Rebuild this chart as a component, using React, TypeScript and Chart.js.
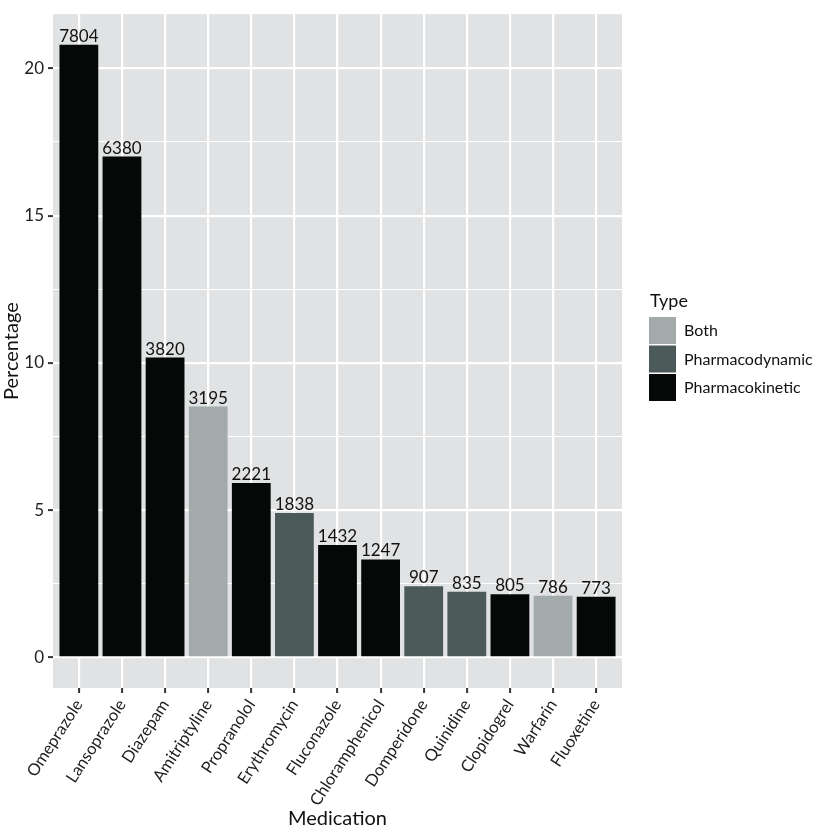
import React, { useEffect, useRef } from "react";
import { Chart, registerables } from "chart.js";

Chart.register(...registerables);

// Medications ordered by number of flagged interactions
const medications = [
  "Omeprazole",
  "Lansoprazole",
  "Diazepam",
  "Amitriptyline",
  "Propranolol",
  "Erythromycin",
  "Fluconazole",
  "Chloramphenicol",
  "Domperidone",
  "Quinidine",
  "Clopidogrel",
  "Warfarin",
  "Fluoxetine",
];

const interactionCounts = [7804, 6380, 3820, 3195, 2221, 1838, 1432, 1247, 907, 835, 805, 786, 773];

const interactionTypes = [
  "Pharmacokinetic",
  "Pharmacokinetic",
  "Pharmacokinetic",
  "Both",
  "Pharmacokinetic",
  "Pharmacodynamic",
  "Pharmacokinetic",
  "Pharmacokinetic",
  "Pharmacodynamic",
  "Pharmacodynamic",
  "Pharmacokinetic",
  "Both",
  "Pharmacokinetic",
];

// Total number of interactions; percentages are shares of this total
const totalInteractions = 37519;

const typeNames = ["Both", "Pharmacodynamic", "Pharmacokinetic"];
const typeColors = ["#a2abaa", "#4b5a58", "#060807"];

const percentages = interactionCounts.map((c) => (c / totalInteractions) * 100);

const FONT = "Lato, 'Open Sans', 'DejaVu Sans', sans-serif";

const App: React.FC = () => {
  const canvasRef = useRef<HTMLCanvasElement | null>(null);

  useEffect(() => {
    const canvas = canvasRef.current;
    if (!canvas) return;

    const maxPct = Math.max(...percentages);
    const yMin = -0.05 * maxPct;
    const yMax = 1.05 * maxPct;

    const panelBackground = {
      id: "panelBackground",
      beforeDraw(chart: any) {
        const { ctx, chartArea } = chart;
        ctx.save();
        ctx.fillStyle = "#e0e2e3";
        ctx.fillRect(chartArea.left, chartArea.top, chartArea.right - chartArea.left, chartArea.bottom - chartArea.top);
        ctx.restore();
      },
    };

    const barLabels = {
      id: "barLabels",
      afterDatasetsDraw(chart: any) {
        const { ctx } = chart;
        const meta = chart.getDatasetMeta(0);
        ctx.save();
        ctx.font = `17px ${FONT}`;
        ctx.fillStyle = "#111111";
        ctx.textAlign = "center";
        ctx.textBaseline = "alphabetic";
        meta.data.forEach((bar: any, i: number) => {
          ctx.fillText(String(interactionCounts[i]), bar.x, bar.y - 3);
        });
        ctx.restore();
      },
    };

    const typeLegend = {
      id: "typeLegend",
      afterDraw(chart: any) {
        const { ctx, chartArea } = chart;
        const x0 = chartArea.right + 27;
        const y0 = 317;
        ctx.save();
        ctx.fillStyle = "#111111";
        ctx.font = `18px ${FONT}`;
        ctx.textAlign = "left";
        ctx.textBaseline = "alphabetic";
        ctx.fillText("Type", x0 + 1, y0 - 10);
        ctx.font = `16px ${FONT}`;
        ctx.textBaseline = "middle";
        typeNames.forEach((name, i) => {
          const ky = y0 + i * 28.5;
          ctx.fillStyle = typeColors[i];
          ctx.fillRect(x0, ky, 27, 27);
          ctx.fillStyle = "#111111";
          ctx.fillText(name, x0 + 35, ky + 14);
        });
        ctx.restore();
      },
    };

    const colorFor = (t: string) => typeColors[typeNames.indexOf(t)];

    const chart = new Chart(canvas, {
      type: "bar",
      data: {
        datasets: [
          {
            data: percentages.map((p, i) => ({ x: i + 1, y: p })),
            backgroundColor: interactionTypes.map(colorFor),
            borderWidth: 0,
            barPercentage: 0.9,
            categoryPercentage: 1,
          },
        ],
      },
      options: {
        animation: false,
        responsive: false,
        layout: { padding: { top: 6, right: 192, left: 0, bottom: 0 } },
        plugins: {
          legend: { display: false },
          tooltip: { enabled: false },
        },
        scales: {
          x: {
            type: "linear",
            min: 0.4,
            max: 13.6,
            offset: false,
            afterFit: (scale: any) => {
              scale.height = 144;
            },
            border: { display: false },
            grid: {
              offset: false,
              color: "#ffffff",
              lineWidth: 2.2,
              drawTicks: true,
              tickColor: "#333333",
              tickLength: 5,
              tickWidth: 2,
            },
            ticks: {
              stepSize: 1,
              maxTicksLimit: 100,
              includeBounds: false,
              autoSkip: false,
              minRotation: 57,
              maxRotation: 57,
              padding: 3,
              color: "#1e1e1e",
              font: { family: FONT, size: 16.5 },
              callback: (v: any) => medications[Math.round(Number(v)) - 1] ?? "",
            },
            title: {
              display: true,
              text: "Medication",
              color: "#111111",
              font: { family: FONT, size: 20 },
              padding: { top: 0, bottom: 1 },
            },
          },
          y: {
            min: yMin,
            max: yMax,
            afterFit: (scale: any) => {
              scale.width = 53;
            },
            border: { display: false },
            grid: {
              color: "#ffffff",
              lineWidth: (ctx: any) => (ctx.tick && ctx.tick.value % 5 === 0 ? 2.2 : 1.1),
              drawTicks: true,
              tickColor: (ctx: any) => (ctx.tick && ctx.tick.value % 5 === 0 ? "#333333" : "rgba(0,0,0,0)"),
              tickLength: 5,
              tickWidth: 2,
            },
            ticks: {
              stepSize: 2.5,
              maxTicksLimit: 100,
              includeBounds: false,
              padding: 4,
              color: "#1e1e1e",
              font: { family: FONT, size: 17 },
              callback: (v: any) => (Number(v) % 5 === 0 ? String(v) : ""),
            },
            title: {
              display: true,
              text: "Percentage",
              color: "#111111",
              font: { family: FONT, size: 20 },
              padding: { top: 0, bottom: 0 },
            },
          },
        },
      },
      plugins: [panelBackground, barLabels, typeLegend],
    });

    return () => chart.destroy();
  }, []);

  return (
    <div style={{ position: "absolute", left: 0, top: 0, width: 814, height: 832, background: "#ffffff" }}>
      <canvas ref={canvasRef} width={814} height={832} />
    </div>
  );
};

export default App;
